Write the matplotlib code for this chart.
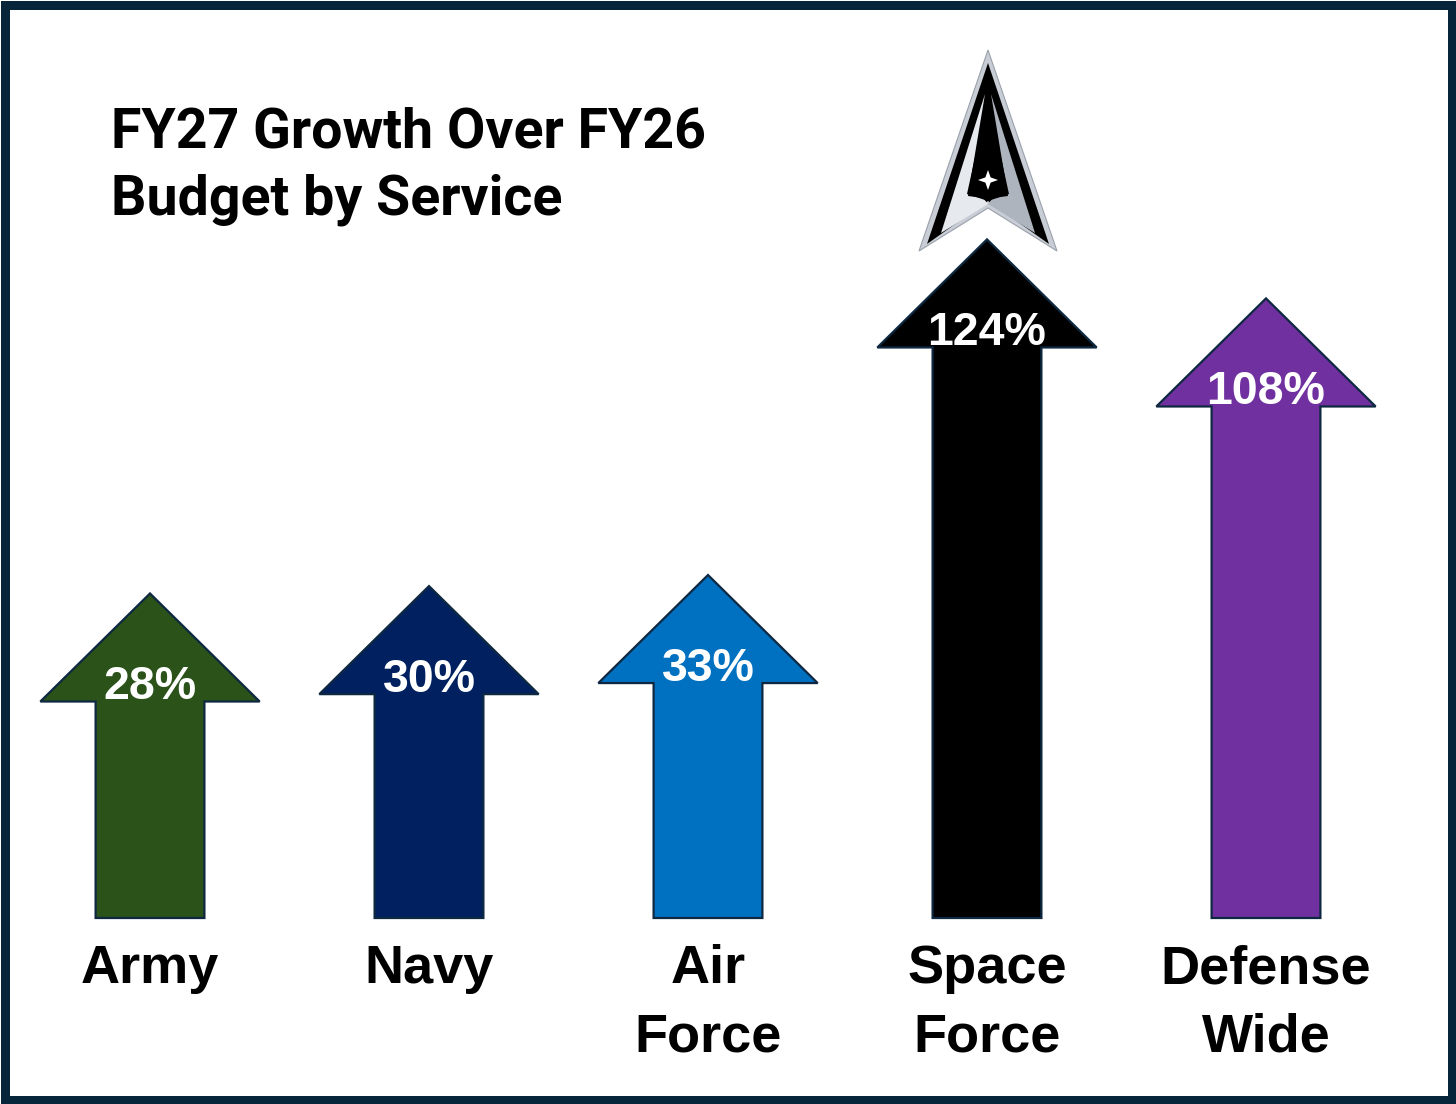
import matplotlib
matplotlib.use("Agg")
import matplotlib.pyplot as plt
from matplotlib.patches import Polygon, Rectangle

# ---------------- data ----------------
services = ["Army", "Navy", "Air\nForce", "Space\nForce", "Defense\nWide"]
growth_pct = [28, 30, 33, 124, 108]
bar_colors = ["#2a5219", "#002060", "#0070c0", "#000000", "#7030a0"]
title_lines = ["FY27 Growth Over FY26", "Budget by Service"]

# ---------------- layout constants ----------------
W, H = 1456, 1104
DPI = 100
X0_PX, DX_PX = 150, 279          # centre of first arrow, spacing (px)
BASE_VAL = -60                   # arrow base value (visual offset)
BASE_PX = 918                    # base position from top (px)
PX_PER_UNIT = 3.688
SHAFT_HALF = 0.195
HEAD_HALF = 0.393
HEAD_LEN = 29.3
EDGE = "#0e2841"
BORDER = "#06243a"

fig = plt.figure(figsize=(W / DPI, H / DPI), dpi=DPI, facecolor="white")
ax = fig.add_axes([0, 0, 1, 1])
ax.set_xlim(-X0_PX / DX_PX, (W - X0_PX) / DX_PX)
ybot = BASE_VAL - (H - BASE_PX) / PX_PER_UNIT
ax.set_ylim(ybot, ybot + H / PX_PER_UNIT)
ax.axis("off")

for i, (v, c) in enumerate(zip(growth_pct, bar_colors)):
    hb = v - HEAD_LEN
    xs = [i - SHAFT_HALF, i - SHAFT_HALF, i - HEAD_HALF, i, i + HEAD_HALF,
          i + SHAFT_HALF, i + SHAFT_HALF]
    ys = [BASE_VAL, hb, hb, v, hb, hb, BASE_VAL]
    ax.fill(xs, ys, facecolor=c, edgecolor=EDGE, linewidth=1.6,
            joinstyle="miter", zorder=2)
    ax.text(i, hb + 0.6, f"{v}%", ha="center", va="baseline", color="white",
            fontsize=33.5, fontweight="bold", family="Liberation Sans", zorder=3)

# category labels (two-line where needed)
lab_tr = matplotlib.transforms.blended_transform_factory(ax.transData, fig.transFigure)
for i, lab in enumerate(services):
    for k, line in enumerate(lab.split("\n")):
        ypx = 983 + 69 * k
        ax.text(i, 1 - ypx / H, line, transform=lab_tr, ha="center", va="baseline",
                fontsize=39, fontweight="bold", family="Liberation Sans",
                color="black")

# title
for k, line in enumerate(title_lines):
    fig.text(111 / W, 1 - (147 + 67 * k) / H, line, ha="left", va="baseline",
             fontsize=40, fontweight="bold", family="Roboto", color="black")

# ---------------- Space Force delta logo (decoration, pixel coords) ----------------
lx = fig.add_axes([0, 0, 1, 1], facecolor="none")
lx.set_xlim(0, W)
lx.set_ylim(H, 0)
lx.axis("off")
cx = 988
lx.add_patch(Polygon([(cx, 50), (919, 251), (cx, 208), (1057, 251)],
                     closed=True, facecolor="#c9ced6", edgecolor="#9aa1ab", lw=0.8, zorder=5))
lx.add_patch(Polygon([(cx, 63), (927, 244), (cx, 201), (1049, 244)],
                     closed=True, facecolor="#000000", zorder=6))
# left / right silver strips and wings
lx.add_patch(Polygon([(cx - 3, 94), (941, 233), (cx, 204), (cx - 5, 198), (968, 196)],
                     closed=True, facecolor="#e6e9ee", zorder=7))
lx.add_patch(Polygon([(cx + 3, 94), (1035, 233), (cx, 204), (cx + 5, 198), (1008, 196)],
                     closed=True, facecolor="#aeb4be", zorder=7))
# central black kite
lx.add_patch(Polygon([(cx, 98), (967, 194), (cx, 201), (1009, 194)],
                     closed=True, facecolor="#000000", zorder=8))
# 4-point star
s, t = 10, 2.6
sy = 180
lx.add_patch(Polygon([(cx, sy - s), (cx + t, sy - t), (cx + s, sy), (cx + t, sy + t),
                      (cx, sy + s), (cx - t, sy + t), (cx - s, sy), (cx - t, sy - t)],
                     closed=True, facecolor="white", zorder=9))

# border
fig.patches.append(Rectangle((4.5 / W, 4.5 / H), (W - 9) / W, (H - 9) / H,
                             transform=fig.transFigure, fill=False,
                             edgecolor=BORDER, linewidth=9 * 72 / DPI, zorder=10))

fig.savefig("out.png", dpi=DPI, facecolor="white")
